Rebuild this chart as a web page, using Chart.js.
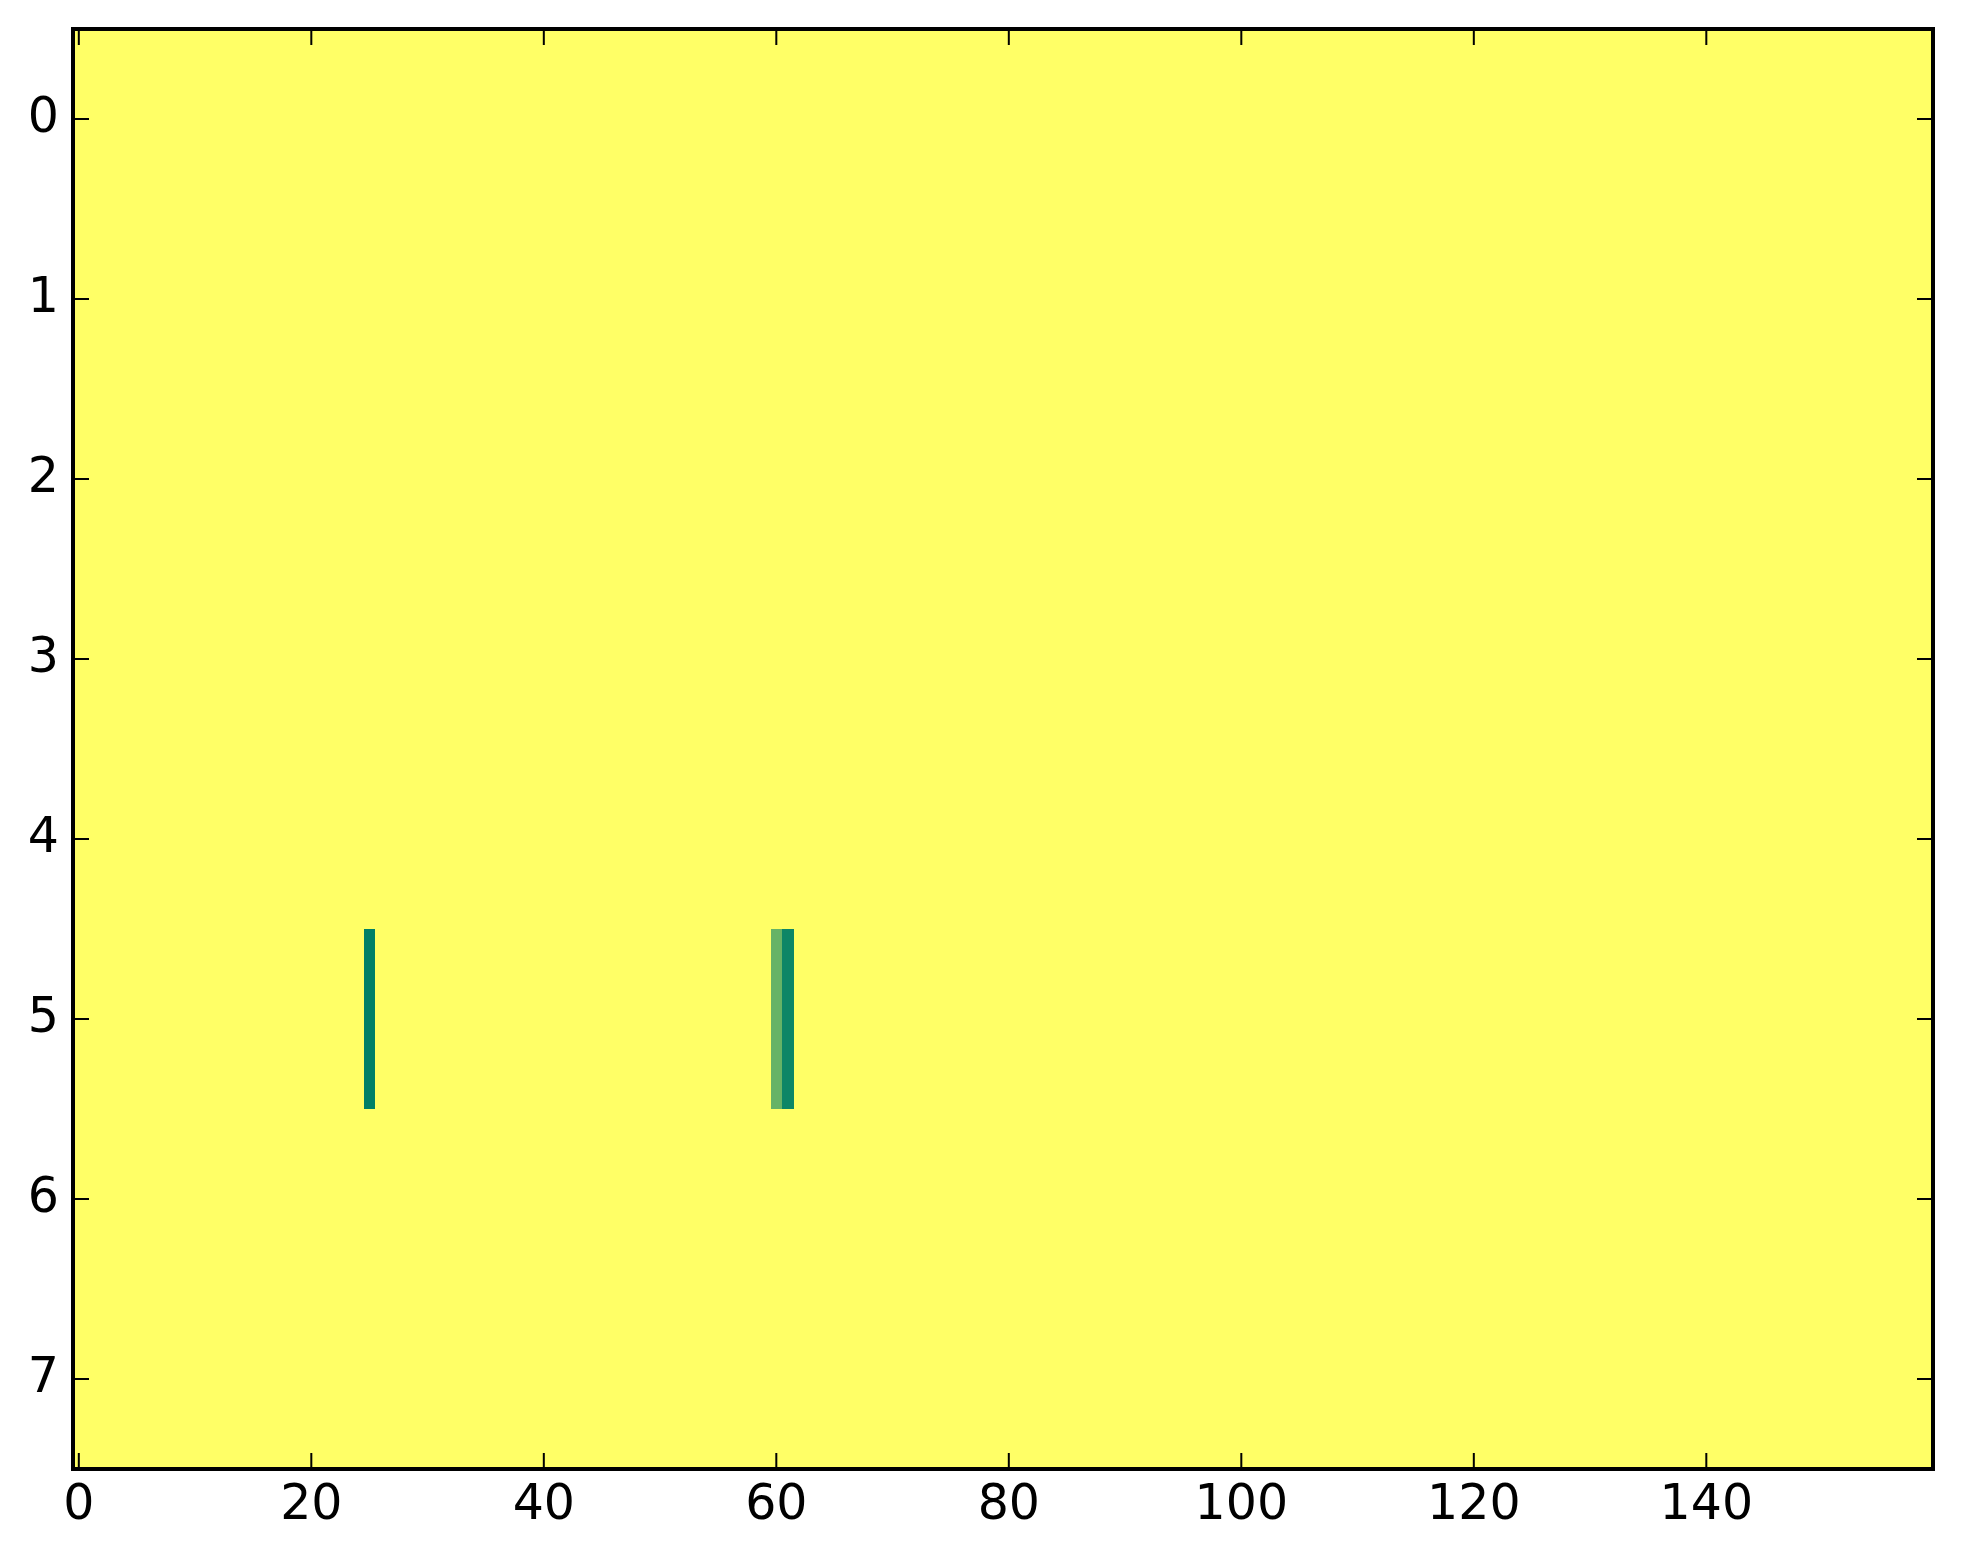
<!DOCTYPE html>
<html>
<head>
<meta charset="utf-8">
<script src="https://cdn.jsdelivr.net/npm/chart.js@4.4.1/dist/chart.umd.min.js"></script>
<style>
  html, body { margin: 0; padding: 0; background: #ffffff; }
  #wrap { width: 1963px; height: 1564px; }
</style>
</head>
<body>
<div id="wrap"><canvas id="heat" width="1963" height="1564"></canvas></div>
<script>
// grid size (image of 8 rows x 160 columns)
const nRows = 8;
const nCols = 160;
// almost every cell sits at the top of the colormap
const baseValue = 1;
// the few cells that differ
const markRows = [5, 5, 5];
const markCols = [25, 60, 61];
const markValues = [0, 0.4, 0.05];
// tick labels
const xTicks = [0, 20, 40, 60, 80, 100, 120, 140];
const yTicks = [0, 1, 2, 3, 4, 5, 6, 7];

// matplotlib "summer" colormap
function summer(v) {
  const r = Math.round(255 * v);
  const g = Math.round(255 * (0.5 + 0.5 * v));
  return `rgb(${r},${g},102)`;
}

// build the cell list from the arrays above
const cells = [];
for (let r = 0; r < nRows; r++) {
  for (let c = 0; c < nCols; c++) {
    let v = baseValue;
    for (let k = 0; k < markCols.length; k++) {
      if (markRows[k] === r && markCols[k] === c) v = markValues[k];
    }
    cells.push({ x: c, y: r, v: v });
  }
}

// draws the cells through the chart scales
const heatPlugin = {
  id: 'heatCells',
  beforeDatasetsDraw(chart) {
    const ctx = chart.ctx;
    const xs = chart.scales.x;
    const ys = chart.scales.y;
    ctx.save();
    chart.data.datasets[0].data.forEach(d => {
      const x0 = Math.round(xs.getPixelForValue(d.x - 0.5));
      const x1 = Math.round(xs.getPixelForValue(d.x + 0.5));
      const y0 = Math.round(ys.getPixelForValue(d.y - 0.5));
      const y1 = Math.round(ys.getPixelForValue(d.y + 0.5));
      ctx.fillStyle = summer(d.v);
      ctx.fillRect(Math.min(x0, x1), Math.min(y0, y1), Math.abs(x1 - x0), Math.abs(y1 - y0));
    });
    ctx.restore();
  },
  afterDraw(chart) {
    // inward ticks on all four sides, then the frame
    const ctx = chart.ctx;
    const a = chart.chartArea;
    const tl = 16;
    ctx.save();
    ctx.strokeStyle = '#000';
    ctx.lineWidth = 2;
    chart.scales.x.ticks.forEach(t => {
      const px = chart.scales.x.getPixelForValue(t.value);
      ctx.beginPath();
      ctx.moveTo(px, a.bottom); ctx.lineTo(px, a.bottom - tl);
      ctx.moveTo(px, a.top); ctx.lineTo(px, a.top + tl);
      ctx.stroke();
    });
    chart.scales.y.ticks.forEach(t => {
      const py = chart.scales.y.getPixelForValue(t.value);
      ctx.beginPath();
      ctx.moveTo(a.left, py); ctx.lineTo(a.left + tl, py);
      ctx.moveTo(a.right, py); ctx.lineTo(a.right - tl, py);
      ctx.stroke();
    });
    ctx.lineWidth = 4;
    ctx.strokeRect(a.left, a.top, a.right - a.left, a.bottom - a.top);
    ctx.restore();
  }
};

const tickFont = { family: "'DejaVu Sans', sans-serif", size: 49 };

new Chart(document.getElementById('heat'), {
  type: 'scatter',
  data: {
    datasets: [{ data: cells, pointRadius: 0, pointHoverRadius: 0 }]
  },
  options: {
    responsive: false,
    animation: false,
    events: [],
    layout: { padding: 0 },
    plugins: { legend: { display: false }, tooltip: { enabled: false } },
    scales: {
      x: {
        type: 'linear', position: 'bottom', min: -0.5, max: nCols - 0.5,
        afterBuildTicks: s => { s.ticks = xTicks.map(v => ({ value: v })); },
        afterFit: s => { s.height = 95; s.paddingLeft = 0; s.paddingRight = 0; },
        grid: { display: false, drawTicks: false },
        border: { display: false },
        ticks: { font: tickFont, color: '#000', padding: 8, maxRotation: 0, autoSkip: false }
      },
      y: {
        type: 'linear', position: 'left', reverse: true, min: -0.5, max: nRows - 0.5,
        afterBuildTicks: s => { s.ticks = yTicks.map(v => ({ value: v })); },
        afterFit: s => { s.width = 73; s.paddingTop = 0; s.paddingBottom = 0; },
        grid: { display: false, drawTicks: false },
        border: { display: false },
        ticks: { font: tickFont, color: '#000', padding: 14, autoSkip: false }
      },
      x2: {
        type: 'linear', position: 'top', min: -0.5, max: nCols - 0.5,
        afterFit: s => { s.height = 29; s.paddingLeft = 0; s.paddingRight = 0; },
        grid: { display: false, drawTicks: false },
        border: { display: false },
        ticks: { display: false }
      },
      y2: {
        type: 'linear', position: 'right', min: -0.5, max: nRows - 0.5,
        afterFit: s => { s.width = 30; s.paddingTop = 0; s.paddingBottom = 0; },
        grid: { display: false, drawTicks: false },
        border: { display: false },
        ticks: { display: false }
      }
    }
  },
  plugins: [heatPlugin]
});
</script>
</body>
</html>
